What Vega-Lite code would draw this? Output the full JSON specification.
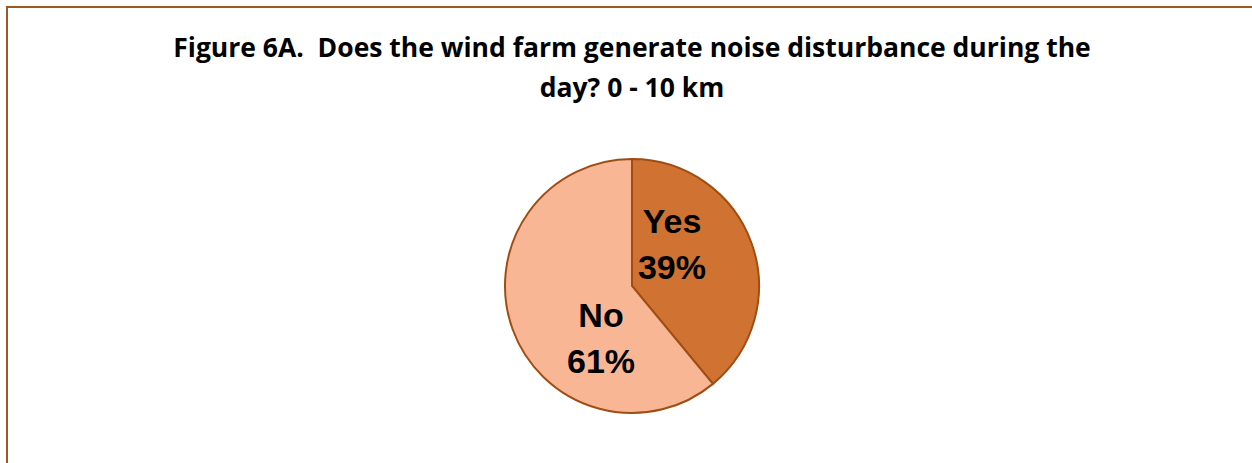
{
  "$schema": "https://vega.github.io/schema/vega-lite/v6.json",
  "autosize": {"type": "none"},
  "padding": {"left": 7, "top": 7, "right": 0, "bottom": 0},
  "width": 1250,
  "height": 558,
  "background": "white",
  "config": {"view": {"stroke": null}},
  "title": {
    "text": ["Figure 6A.\u00a0 Does the wind farm generate noise disturbance during the", "day? 0 - 10 km"],
    "font": "Open Sans",
    "fontSize": 26.5,
    "fontWeight": "bold",
    "color": "black",
    "lineHeight": 40,
    "anchor": "middle",
    "baseline": "top",
    "offset": -96
  },
  "data": {"values": [
    {"answer": "Yes", "value": 39},
    {"answer": "No", "value": 61}
  ]},
  "transform": [{"calculate": "datum.answer + '\\n' + datum.value + '%'", "as": "label"}],
  "layer": [
    {
      "data": {"values": [{}]},
      "transform": [],
      "mark": {"type": "rect", "fill": "transparent", "stroke": "#9C5A22", "strokeWidth": 2},
      "encoding": {}
    },
    {
      "mark": {"type": "arc", "outerRadius": 127, "stroke": "#9E4E12", "strokeWidth": 2},
      "encoding": {
        "theta": {"field": "value", "type": "quantitative", "stack": true},
        "order": {"field": "answer", "sort": "descending"},
        "color": {"field": "answer", "type": "nominal", "scale": {"domain": ["Yes", "No"], "range": ["#D07232", "#F9B694"]}, "legend": null}
      }
    },
    {
      "mark": {"type": "text", "radius": 59, "thetaOffset": -0.58, "dx": 4.5, "dy": -16, "font": "Liberation Sans", "fontSize": 34, "fontWeight": "bold", "color": "black", "lineBreak": "\n", "lineHeight": 46, "align": "center", "baseline": "middle"},
      "encoding": {
        "theta": {"field": "value", "type": "quantitative", "stack": true},
        "order": {"field": "answer", "sort": "descending"},
        "text": {"field": "label"}
      }
    }
  ]
}
